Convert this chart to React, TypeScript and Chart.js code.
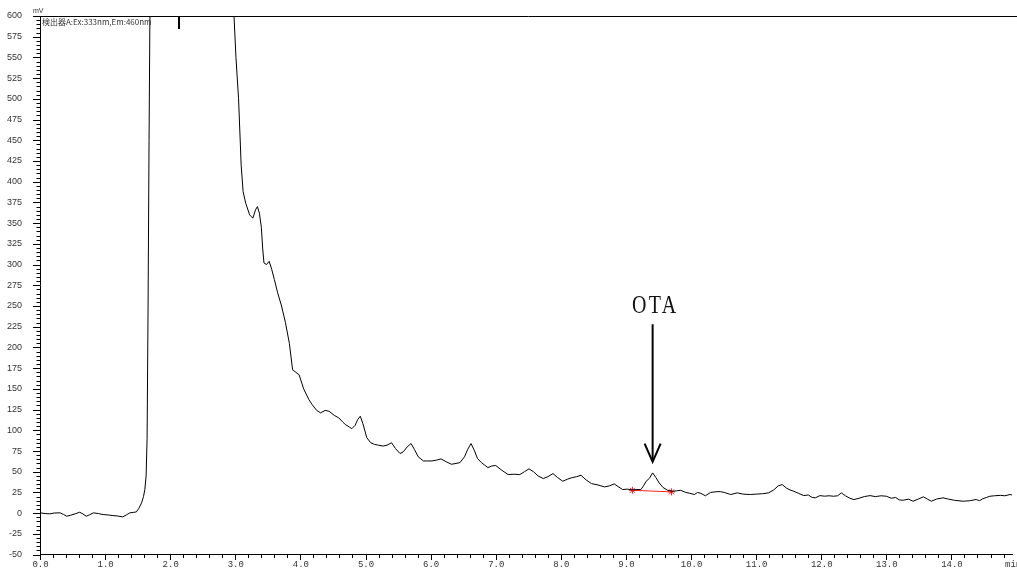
import React, { useEffect, useRef } from "react";
import { Chart, registerables } from "chart.js";

Chart.register(...registerables);

// Chromatogram trace (retention time in min, signal in mV)
const timeMin = [
  0.0, 0.08, 0.15, 0.22, 0.31, 0.36, 0.41, 0.47, 0.54, 0.61, 0.66, 0.71, 0.76, 0.82, 0.9, 0.97,
  1.05, 1.12, 1.2, 1.27, 1.33, 1.38, 1.44, 1.48, 1.52, 1.56, 1.59, 1.61, 1.63, 1.645, 1.66, 1.675,
  1.69, 1.75, 2.0, 2.9, 2.96, 2.98, 3.01, 3.05, 3.09, 3.12, 3.16, 3.22, 3.27, 3.31, 3.34, 3.37,
  3.4, 3.42, 3.44, 3.48, 3.52, 3.56, 3.6, 3.65, 3.71, 3.77, 3.83, 3.88, 3.93, 3.98, 4.05, 4.13,
  4.18, 4.25, 4.31, 4.38, 4.44, 4.52, 4.59, 4.65, 4.69, 4.75, 4.79, 4.84, 4.88, 4.92, 4.96, 5.02,
  5.08, 5.14, 5.2, 5.27, 5.33, 5.4, 5.46, 5.53, 5.58, 5.64, 5.7, 5.75, 5.81, 5.89, 5.95, 6.02,
  6.09, 6.16, 6.24, 6.32, 6.39, 6.45, 6.52, 6.57, 6.62, 6.67, 6.72, 6.78, 6.83, 6.88, 6.94, 7.0,
  7.09, 7.19, 7.28, 7.37, 7.44, 7.51, 7.58, 7.65, 7.73, 7.8, 7.88, 7.95, 8.03, 8.1, 8.16, 8.24,
  8.31, 8.39, 8.47, 8.57, 8.67, 8.75, 8.82, 8.88, 8.95, 9.02, 9.1, 9.17, 9.23, 9.27, 9.31, 9.36,
  9.41, 9.46, 9.51, 9.57, 9.64, 9.71, 9.78, 9.84, 9.92, 9.98, 10.05, 10.1, 10.15, 10.22, 10.3, 10.4,
  10.45, 10.51, 10.61, 10.71, 10.8, 10.91, 11.0, 11.1, 11.19, 11.27, 11.34, 11.4, 11.47, 11.52, 11.58, 11.65,
  11.73, 11.8, 11.86, 11.91, 11.98, 12.05, 12.12, 12.19, 12.25, 12.31, 12.37, 12.44, 12.5, 12.58, 12.66, 12.75,
  12.83, 12.92, 13.0, 13.08, 13.14, 13.2, 13.26, 13.34, 13.41, 13.49, 13.57, 13.63, 13.69, 13.77, 13.87, 13.95,
  14.05, 14.18, 14.28, 14.38, 14.43, 14.48, 14.54, 14.59, 14.66, 14.75, 14.82, 14.9, 14.93,
];

const signalMv = [
  0.4, -0.5, -0.8, 0.2, 0.4, -1.5, -3.7, -2.5, -0.8, 1.1, -1.0, -3.7, -2.0, 0.4, -0.5, -1.7,
  -2.2, -2.9, -3.5, -4.5, -2.0, 0.4, 1.0, 1.5, 6, 12.4, 20, 28.5, 45, 90, 250, 450,
  620, 900, 1200, 1200, 700, 600, 550, 500, 420, 388, 374, 360, 356, 366, 370, 362,
  345, 320, 302, 300, 304, 294, 282, 266, 250, 230, 205, 173, 170, 167, 150, 137,
  131, 124, 121, 124, 123, 118, 115, 110, 107, 104, 102, 106, 113, 117, 108, 91,
  85, 83, 82, 81, 82, 85, 78, 72, 74, 80, 84, 77, 68, 63, 63, 63,
  64, 65.5, 62, 59, 60, 61, 68, 77, 84, 76, 66, 61, 58, 55, 57, 57.5,
  52, 46.6, 47, 46.6, 50, 53.5, 50, 45, 41.8, 44, 47.8, 43, 38.5, 41, 42.6, 44,
  45.7, 40, 35.7, 34, 31.7, 33, 35.4, 32, 28.5, 29, 28, 28.5, 28.5, 33, 38.5, 42,
  48.6, 43, 36.6, 31, 27.6, 26.4, 27, 27.6, 25, 24, 22.5, 25, 24, 21, 25, 26,
  26, 25, 22.5, 24.5, 23, 22.5, 23, 23.5, 24.5, 28, 33, 34.5, 30, 28, 26.4, 24,
  21.2, 22, 19, 18.5, 21.2, 20.5, 21, 20.4, 21, 24.5, 21, 18, 16.4, 18, 20, 21.2,
  20, 21, 20.4, 18, 19, 16, 15.6, 17, 14.4, 17, 19.7, 17, 14.4, 17, 18.5, 17,
  15.5, 14.4, 15, 16.5, 15, 17.3, 19, 20.4, 21, 21.5, 21, 22.5, 22,
];

// Integration baseline of the OTA peak
const baselineTimes = [9.1, 9.7];
const baselineMv = [27.6, 25.7];

// Axis ranges and ticks
const xMin = 0;
const xMax = 14.93;
const xMajorTicks = [0, 1, 2, 3, 4, 5, 6, 7, 8, 9, 10, 11, 12, 13, 14];
const xTickLabels = ["0.0", "1.0", "2.0", "3.0", "4.0", "5.0", "6.0", "7.0", "8.0", "9.0", "10.0", "11.0", "12.0", "13.0", "14.0"];
const yMin = -50;
const yMax = 600;
const yMajorStep = 25;
const yMinorStep = 5;
const xMinorStep = 0.2;

// Annotations
const detectorLabel = "検出器A:Ex:333nm,Em:460nm";
const yUnitLabel = "mV";
const xUnitLabel = "min";
const eventMarkerTime = 2.14;
const peakName = "OTA";
const peakTime = 9.41;
const arrowTopMv = 228;
const arrowTipMv = 62;
const arrowHeadBackMv = 84;
const peakLabelMv = 242;

const overlayPlugin = {
  id: "overlay",
  afterDraw(chart: any) {
    const { ctx, chartArea, scales } = chart;
    const { left, top, bottom } = chartArea;
    const x = scales.x;
    const y = scales.y;
    ctx.save();
    ctx.strokeStyle = "#000";
    ctx.lineWidth = 1;

    // top frame line
    ctx.beginPath();
    ctx.moveTo(left, Math.round(top) + 0.5);
    ctx.lineTo(chart.width, Math.round(top) + 0.5);
    ctx.stroke();

    // y ticks
    ctx.beginPath();
    for (let v = yMin; v <= yMax + 1e-6; v += yMinorStep) {
      const py = Math.round(y.getPixelForValue(v)) + 0.5;
      const len = v % yMajorStep === 0 ? 7 : 3.5;
      ctx.moveTo(Math.round(left) - len, py);
      ctx.lineTo(Math.round(left), py);
    }
    ctx.stroke();

    // x ticks
    ctx.beginPath();
    for (let i = 0; i * xMinorStep <= xMax + 1e-6; i++) {
      const t = i * xMinorStep;
      const px = Math.round(x.getPixelForValue(t)) + 0.5;
      const len = i % 5 === 0 ? 5 : 3;
      ctx.moveTo(px, Math.round(bottom));
      ctx.lineTo(px, Math.round(bottom) + len);
    }
    ctx.stroke();

    // x tick labels
    ctx.fillStyle = "#333";
    ctx.font = "9px 'Liberation Mono'";
    ctx.textAlign = "center";
    ctx.textBaseline = "middle";
    xMajorTicks.forEach((t, i) => {
      ctx.fillText(xTickLabels[i], x.getPixelForValue(t) + 0.5, bottom + 10.5);
    });
    ctx.textAlign = "left";
    ctx.fillText(xUnitLabel, 1005, bottom + 10.5);

    // event marker
    ctx.lineWidth = 2;
    const ex = Math.round(x.getPixelForValue(eventMarkerTime));
    ctx.beginPath();
    ctx.moveTo(ex, top);
    ctx.lineTo(ex, top + 13);
    ctx.stroke();

    // texts
    ctx.fillStyle = "#333";
    ctx.textAlign = "left";
    ctx.textBaseline = "alphabetic";
    ctx.font = "7px 'Liberation Sans'";
    ctx.fillText(yUnitLabel, 33, 13);
    ctx.font = "8px 'Noto Sans CJK JP'";
    ctx.textBaseline = "middle";
    ctx.fillText(detectorLabel, 42, top + 6);

    // OTA arrow
    const ax = x.getPixelForValue(peakTime);
    const aTop = y.getPixelForValue(arrowTopMv);
    const aTip = y.getPixelForValue(arrowTipMv);
    const aBack = y.getPixelForValue(arrowHeadBackMv);
    ctx.strokeStyle = "#000";
    ctx.lineWidth = 2;
    ctx.beginPath();
    ctx.moveTo(ax, aTop);
    ctx.lineTo(ax, aTip - 1);
    ctx.stroke();
    ctx.beginPath();
    ctx.moveTo(ax - 8, aBack);
    ctx.lineTo(ax, aTip);
    ctx.lineTo(ax + 8, aBack);
    ctx.stroke();

    // OTA label
    const ly = y.getPixelForValue(peakLabelMv);
    ctx.fillStyle = "#111";
    ctx.textAlign = "center";
    ctx.textBaseline = "alphabetic";
    ctx.translate(ax + 1, ly);
    ctx.scale(0.8, 1);
    ctx.font = "25px 'Liberation Serif'";
    (ctx as any).letterSpacing = "3px";
    ctx.fillText(peakName, 2, 0);
    ctx.restore();
  },
};

export default function App() {
  const canvasRef = useRef<HTMLCanvasElement | null>(null);

  useEffect(() => {
    if (!canvasRef.current) return;
    const chart = new Chart(canvasRef.current, {
      type: "line",
      data: {
        datasets: [
          {
            data: timeMin.map((t, i) => ({ x: t, y: signalMv[i] })),
            borderColor: "#000",
            borderWidth: 1,
            pointRadius: 0,
            tension: 0,
            fill: false,
          },
          {
            data: baselineTimes.map((t, i) => ({ x: t, y: baselineMv[i] })),
            borderColor: "#ff2020",
            borderWidth: 1,
            pointStyle: "star",
            pointRadius: 3.5,
            pointBorderColor: "#ff2020",
            pointBorderWidth: 1,
            tension: 0,
            fill: false,
          },
        ],
      },
      options: {
        responsive: false,
        animation: false,
        events: [],
        layout: { padding: { top: 16, right: 1, left: 0, bottom: 0 } },
        plugins: { legend: { display: false }, tooltip: { enabled: false } },
        scales: {
          x: {
            type: "linear",
            min: xMin,
            max: xMax,
            grid: { display: false },
            border: { display: true, color: "#000", width: 1 },
            afterFit: (scale: any) => {
              scale.height = 13;
            },
            ticks: { display: false, stepSize: 1 },
          },
          y: {
            type: "linear",
            min: yMin,
            max: yMax,
            grid: { display: false },
            border: { display: true, color: "#000", width: 1 },
            afterFit: (scale: any) => {
              scale.width = 40;
            },
            ticks: {
              stepSize: yMajorStep,
              autoSkip: false,
              padding: 10,
              color: "#333",
              font: { family: "'Liberation Sans'", size: 9 },
            },
          },
        },
      },
      plugins: [overlayPlugin],
    });
    return () => chart.destroy();
  }, []);

  return (
    <div style={{ position: "fixed", left: 0, top: 0, width: 1017, height: 570, background: "#fff" }}>
      <canvas ref={canvasRef} width={1017} height={570} />
    </div>
  );
}
